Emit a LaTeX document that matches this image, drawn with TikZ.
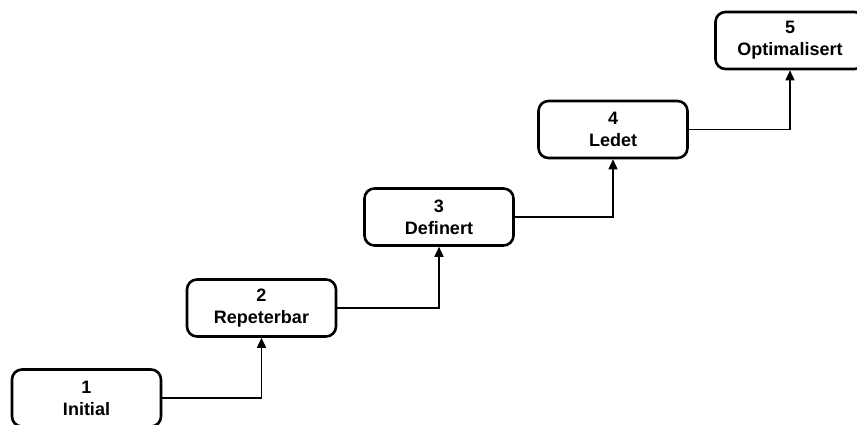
\documentclass[tikz,border=0pt]{standalone}
\usepackage{fontspec}
\setmainfont{Liberation Sans}
\usetikzlibrary{arrows.meta}
\begin{document}
\begin{tikzpicture}[x=1pt,y=-1pt,
  level/.style={draw=black, line width=2.6pt, rounded corners=10pt, fill=white,
    minimum width=149pt, minimum height=57pt, inner sep=0pt,
    align=center, font=\fontsize{18}{22}\selectfont\bfseries},
  link/.style={draw=black, line width=1.5pt, -{Triangle[length=10pt,width=9pt]}}]
\useasboundingbox (0,0) rectangle (857,425);
\clip (0,0) rectangle (857,425);
\fill[white] (0,0) rectangle (857,425);
\node[level] (l1) at (86.5,398) {1\\Initial};
\node[level] (l2) at (261.5,308) {2\\Repeterbar};
\node[level] (l3) at (439,217) {3\\Definert};
\node[level] (l4) at (613,129.5) {4\\Ledet};
\node[level] (l5) at (790,40.5) {5\\Optimalisert};
\draw[link] (l1.east) -| (l2.south);
\draw[link] (l2.east) -| (l3.south);
\draw[link] (l3.east) -| (l4.south);
\draw[link] (l4.east) -| (l5.south);
\end{tikzpicture}
\end{document}
